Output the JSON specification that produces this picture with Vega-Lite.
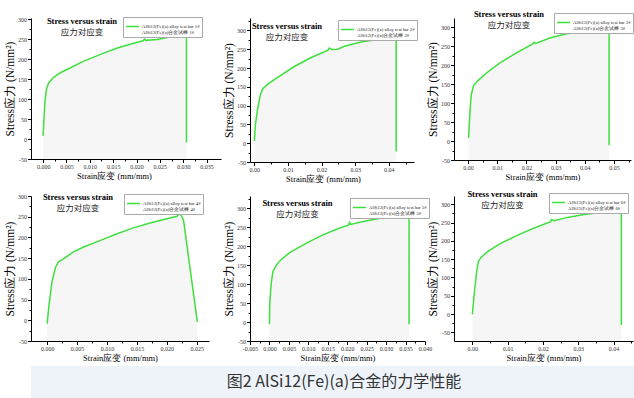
{
  "$schema": "https://vega.github.io/schema/vega-lite/v6.json",
  "padding": {"left": 4, "top": 9, "right": 0, "bottom": 0},
  "background": "white",
  "config": {
    "view": {"stroke": null},
    "font": "Liberation Serif",
    "axis": {"domainColor": "black", "domainWidth": 1, "tickColor": "black", "tickWidth": 1, "labelFont": "Liberation Serif", "labelFontSize": 6, "labelColor": "#333", "labelPadding": 1, "titleFont": "Liberation Serif", "titleFontWeight": "normal", "titleColor": "black", "grid": false, "labelOverlap": false, "labelFlush": false, "labelBound": false},
    "axisX": {"titleFontSize": 8.5, "titlePadding": 2},
    "axisY": {"titleFontSize": 11.5, "titlePadding": 2},
    "title": {"font": "Liberation Serif", "fontSize": 8.5, "fontWeight": "bold", "color": "black", "subtitleFont": "Noto Sans CJK SC", "subtitleFontSize": 8.5, "subtitleColor": "#222", "subtitlePadding": 2.5, "anchor": "middle", "frame": "group"},
    "legend": {"orient": "none", "labelFont": "Liberation Serif", "labelFontSize": 4.7, "labelColor": "#222", "symbolType": "stroke", "symbolStrokeWidth": 1.5, "symbolSize": 170, "strokeColor": "#aaa", "fillColor": "white", "padding": 2, "labelOffset": 2}
  },
  "datasets": {
    "p1": [
      {"bar": "1#", "strain": 0, "stress": 8}, {"bar": "1#", "strain": 0.00015, "stress": 45}, {"bar": "1#", "strain": 0.0004, "stress": 95}, {"bar": "1#", "strain": 0.0007, "stress": 124}, {"bar": "1#", "strain": 0.0012, "stress": 141}, {"bar": "1#", "strain": 0.0023, "stress": 155}, {"bar": "1#", "strain": 0.0037, "stress": 166}, {"bar": "1#", "strain": 0.0051, "stress": 174}, {"bar": "1#", "strain": 0.0087, "stress": 195}, {"bar": "1#", "strain": 0.0123, "stress": 212}, {"bar": "1#", "strain": 0.0159, "stress": 228}, {"bar": "1#", "strain": 0.0194, "stress": 240}, {"bar": "1#", "strain": 0.0214, "stress": 246}, {"bar": "1#", "strain": 0.0217, "stress": 250}, {"bar": "1#", "strain": 0.022, "stress": 247}, {"bar": "1#", "strain": 0.0244, "stress": 249}, {"bar": "1#", "strain": 0.0266, "stress": 254}, {"bar": "1#", "strain": 0.0287, "stress": 259}, {"bar": "1#", "strain": 0.0304, "stress": 262}, {"bar": "1#", "strain": 0.0307, "stress": 262}, {"bar": "1#", "strain": 0.0307, "stress": -9}
    ],
    "p2": [
      {"bar": "2#", "strain": 0, "stress": 6}, {"bar": "2#", "strain": 0.0003, "stress": 49}, {"bar": "2#", "strain": 0.001, "stress": 93}, {"bar": "2#", "strain": 0.0018, "stress": 129}, {"bar": "2#", "strain": 0.0025, "stress": 145}, {"bar": "2#", "strain": 0.004, "stress": 157}, {"bar": "2#", "strain": 0.0069, "stress": 175}, {"bar": "2#", "strain": 0.0119, "stress": 204}, {"bar": "2#", "strain": 0.0169, "stress": 228}, {"bar": "2#", "strain": 0.0218, "stress": 247}, {"bar": "2#", "strain": 0.0223, "stress": 253}, {"bar": "2#", "strain": 0.023, "stress": 249}, {"bar": "2#", "strain": 0.0248, "stress": 250}, {"bar": "2#", "strain": 0.0268, "stress": 258}, {"bar": "2#", "strain": 0.0317, "stress": 269}, {"bar": "2#", "strain": 0.0367, "stress": 276}, {"bar": "2#", "strain": 0.042, "stress": 282}, {"bar": "2#", "strain": 0.0422, "stress": 282}, {"bar": "2#", "strain": 0.0422, "stress": -22}
    ],
    "p3": [
      {"bar": "3#", "strain": 0.0002, "stress": 8}, {"bar": "3#", "strain": 0.0006, "stress": 69}, {"bar": "3#", "strain": 0.0011, "stress": 122}, {"bar": "3#", "strain": 0.0019, "stress": 146}, {"bar": "3#", "strain": 0.0034, "stress": 159}, {"bar": "3#", "strain": 0.0063, "stress": 179}, {"bar": "3#", "strain": 0.0108, "stress": 205}, {"bar": "3#", "strain": 0.0166, "stress": 232}, {"bar": "3#", "strain": 0.0223, "stress": 256}, {"bar": "3#", "strain": 0.0226, "stress": 260}, {"bar": "3#", "strain": 0.0232, "stress": 257}, {"bar": "3#", "strain": 0.028, "stress": 271}, {"bar": "3#", "strain": 0.0337, "stress": 282}, {"bar": "3#", "strain": 0.0394, "stress": 287}, {"bar": "3#", "strain": 0.0451, "stress": 289}, {"bar": "3#", "strain": 0.0479, "stress": 290}, {"bar": "3#", "strain": 0.0483, "stress": 290}, {"bar": "3#", "strain": 0.0483, "stress": -11}
    ],
    "p4": [
      {"bar": "4#", "strain": 0, "stress": -8}, {"bar": "4#", "strain": 0.0003, "stress": 36}, {"bar": "4#", "strain": 0.0008, "stress": 92}, {"bar": "4#", "strain": 0.0014, "stress": 128}, {"bar": "4#", "strain": 0.0019, "stress": 141}, {"bar": "4#", "strain": 0.0028, "stress": 149}, {"bar": "4#", "strain": 0.0044, "stress": 165}, {"bar": "4#", "strain": 0.0061, "stress": 177}, {"bar": "4#", "strain": 0.0089, "stress": 193}, {"bar": "4#", "strain": 0.0117, "stress": 209}, {"bar": "4#", "strain": 0.0144, "stress": 223}, {"bar": "4#", "strain": 0.0172, "stress": 235}, {"bar": "4#", "strain": 0.02, "stress": 245}, {"bar": "4#", "strain": 0.0217, "stress": 251}, {"bar": "4#", "strain": 0.0221, "stress": 257}, {"bar": "4#", "strain": 0.0225, "stress": 251}, {"bar": "4#", "strain": 0.0228, "stress": 241}, {"bar": "4#", "strain": 0.0251, "stress": -4}
    ],
    "p5": [
      {"bar": "5#", "strain": 0, "stress": -6}, {"bar": "5#", "strain": 0.0001, "stress": 54}, {"bar": "5#", "strain": 0.0005, "stress": 106}, {"bar": "5#", "strain": 0.0009, "stress": 133}, {"bar": "5#", "strain": 0.0018, "stress": 150}, {"bar": "5#", "strain": 0.0026, "stress": 161}, {"bar": "5#", "strain": 0.0052, "stress": 183}, {"bar": "5#", "strain": 0.0094, "stress": 207}, {"bar": "5#", "strain": 0.0136, "stress": 229}, {"bar": "5#", "strain": 0.0179, "stress": 247}, {"bar": "5#", "strain": 0.0204, "stress": 256}, {"bar": "5#", "strain": 0.0206, "stress": 262}, {"bar": "5#", "strain": 0.0209, "stress": 257}, {"bar": "5#", "strain": 0.0238, "stress": 264}, {"bar": "5#", "strain": 0.0281, "stress": 273}, {"bar": "5#", "strain": 0.0323, "stress": 279}, {"bar": "5#", "strain": 0.0357, "stress": 280}, {"bar": "5#", "strain": 0.0359, "stress": 280}, {"bar": "5#", "strain": 0.0359, "stress": -6}
    ],
    "p6": [
      {"bar": "6#", "strain": 0, "stress": -1}, {"bar": "6#", "strain": 0.0005, "stress": 52}, {"bar": "6#", "strain": 0.0012, "stress": 115}, {"bar": "6#", "strain": 0.0017, "stress": 143}, {"bar": "6#", "strain": 0.0024, "stress": 154}, {"bar": "6#", "strain": 0.0042, "stress": 170}, {"bar": "6#", "strain": 0.008, "stress": 193}, {"bar": "6#", "strain": 0.0127, "stress": 215}, {"bar": "6#", "strain": 0.0175, "stress": 235}, {"bar": "6#", "strain": 0.0222, "stress": 252}, {"bar": "6#", "strain": 0.0224, "stress": 258}, {"bar": "6#", "strain": 0.0231, "stress": 255}, {"bar": "6#", "strain": 0.0269, "stress": 264}, {"bar": "6#", "strain": 0.0316, "stress": 272}, {"bar": "6#", "strain": 0.0363, "stress": 277}, {"bar": "6#", "strain": 0.042, "stress": 281}, {"bar": "6#", "strain": 0.0422, "stress": 281}, {"bar": "6#", "strain": 0.0422, "stress": -30}
    ],
    "caption": [{"text": "图2 AlSi12(Fe)(a)合金的力学性能"}]
  },
  "resolve": {"scale": {"color": "independent"}, "legend": {"color": "independent"}},
  "spacing": 4,
  "vconcat": [
    {
      "columns": 3,
      "bounds": "flush",
      "align": {"row": "all", "column": "none"},
      "spacing": {"row": 33, "column": 29},
      "resolve": {"scale": {"x": "independent", "y": "independent", "color": "independent"}, "axis": {"x": "independent", "y": "independent"}, "legend": {"color": "independent"}},
      "concat": [
        {
          "width": 190, "height": 141,
          "data": {"name": "p1"},
          "title": {"text": "Stress versus strain", "subtitle": "应力对应变", "dx": -44, "offset": -20.5},
          "encoding": {
            "x": {"field": "strain", "type": "quantitative", "scale": {"domain": [-0.0026, 0.0381], "nice": false, "zero": false},
              "axis": {"title": "Strain应变 (mm/mm)", "titleX": 83, "values": [0, 0.0025, 0.005, 0.0075, 0.01, 0.0125, 0.015, 0.0175, 0.02, 0.0225, 0.025, 0.0275, 0.03, 0.0325, 0.035],
                "labelExpr": "abs(datum.value/0.005 - round(datum.value/0.005)) < 0.01 ? format(datum.value, '.3f') : ''",
                "tickSize": {"condition": {"test": "abs(datum.value/0.005 - round(datum.value/0.005)) < 0.01", "value": 3.5}, "value": 2}}},
            "y": {"field": "stress", "type": "quantitative", "scale": {"domain": [-50, 303], "nice": false, "zero": false},
              "axis": {"title": "Stress应力 (N/mm²)", "values": [-50, -25, 0, 25, 50, 75, 100, 125, 150, 175, 200, 225, 250, 275, 300],
                "labelExpr": "datum.value % 50 === 0 ? '' + datum.value : ''",
                "tickSize": {"condition": {"test": "datum.value % 50 === 0", "value": 3.5}, "value": 2}}}
          },
          "layer": [
            {"mark": {"type": "area", "color": "#f6f6f6"}, "encoding": {"y2": {"datum": -50}, "order": {"value": null}}},
            {"mark": {"type": "line", "strokeWidth": 1.5}, "encoding": {"order": {"value": null}, "color": {"field": "bar", "type": "nominal", "scale": {"range": ["#3ee03e"]},
              "legend": {"title": null, "legendX": 92, "legendY": -1, "labelExpr": "['AlSi12(Fe)(a) alloy test bar ' + datum.label, 'AlSi12(Fe)(a)合金试棒 ' + datum.label]"}}}}
          ]
        },
        {
          "width": 164, "height": 144,
          "data": {"name": "p2"},
          "title": {"text": "Stress versus strain", "subtitle": "应力对应变", "dx": -45, "offset": -23.5},
          "encoding": {
            "x": {"field": "strain", "type": "quantitative", "scale": {"domain": [-0.0013, 0.0475], "nice": false, "zero": false},
              "axis": {"title": "Strain应变 (mm/mm)", "titleX": 73, "values": [0, 0.005, 0.01, 0.015, 0.02, 0.025, 0.03, 0.035, 0.04, 0.045],
                "labelExpr": "abs(datum.value/0.01 - round(datum.value/0.01)) < 0.01 ? format(datum.value, '.2f') : ''",
                "tickSize": {"condition": {"test": "abs(datum.value/0.01 - round(datum.value/0.01)) < 0.01", "value": 3.5}, "value": 2}}},
            "y": {"field": "stress", "type": "quantitative", "scale": {"domain": [-50, 333], "nice": false, "zero": false},
              "axis": {"title": "Stress应力 (N/mm²)", "values": [-50, -25, 0, 25, 50, 75, 100, 125, 150, 175, 200, 225, 250, 275, 300, 325],
                "labelExpr": "datum.value % 50 === 0 ? '' + datum.value : ''",
                "tickSize": {"condition": {"test": "datum.value % 50 === 0", "value": 3.5}, "value": 2}}}
          },
          "layer": [
            {"mark": {"type": "area", "color": "#f6f6f6"}, "encoding": {"y2": {"datum": -50}, "order": {"value": null}}},
            {"mark": {"type": "line", "strokeWidth": 1.5}, "encoding": {"order": {"value": null}, "color": {"field": "bar", "type": "nominal", "scale": {"range": ["#3ee03e"]},
              "legend": {"title": null, "legendX": 88, "legendY": 2, "labelExpr": "['AlSi12(Fe)(a) alloy test bar ' + datum.label, 'AlSi12(Fe)(a)合金试棒 ' + datum.label]"}}}}
          ]
        },
        {
          "width": 177, "height": 142,
          "data": {"name": "p3"},
          "title": {"text": "Stress versus strain", "subtitle": "应力对应变", "dx": -33.5, "offset": -16.5},
          "encoding": {
            "x": {"field": "strain", "type": "quantitative", "scale": {"domain": [-0.0048, 0.0558], "nice": false, "zero": false},
              "axis": {"title": "Strain应变 (mm/mm)", "values": [0, 0.005, 0.01, 0.015, 0.02, 0.025, 0.03, 0.035, 0.04, 0.045, 0.05, 0.055],
                "labelExpr": "abs(datum.value/0.01 - round(datum.value/0.01)) < 0.01 ? format(datum.value, '.2f') : ''",
                "tickSize": {"condition": {"test": "abs(datum.value/0.01 - round(datum.value/0.01)) < 0.01", "value": 3.5}, "value": 2}}},
            "y": {"field": "stress", "type": "quantitative", "scale": {"domain": [-50, 323.7], "nice": false, "zero": false},
              "axis": {"title": "Stress应力 (N/mm²)", "values": [-50, -25, 0, 25, 50, 75, 100, 125, 150, 175, 200, 225, 250, 275, 300],
                "labelExpr": "datum.value % 50 === 0 ? '' + datum.value : ''",
                "tickSize": {"condition": {"test": "datum.value % 50 === 0", "value": 3.5}, "value": 2}}}
          },
          "layer": [
            {"mark": {"type": "area", "color": "#f6f6f6"}, "encoding": {"y2": {"datum": -50}, "order": {"value": null}}},
            {"mark": {"type": "line", "strokeWidth": 1.5}, "encoding": {"order": {"value": null}, "color": {"field": "bar", "type": "nominal", "scale": {"range": ["#3ee03e"]},
              "legend": {"title": null, "legendX": 100, "legendY": -5, "labelExpr": "['AlSi12(Fe)(a) alloy test bar ' + datum.label, 'AlSi12(Fe)(a)合金试棒 ' + datum.label]"}}}}
          ]
        },
        {
          "width": 178, "height": 145,
          "data": {"name": "p4"},
          "title": {"text": "Stress versus strain", "subtitle": "应力对应变", "dx": -42, "offset": -19.5},
          "encoding": {
            "x": {"field": "strain", "type": "quantitative", "scale": {"domain": [-0.0027, 0.02705], "nice": false, "zero": false},
              "axis": {"title": "Strain应变 (mm/mm)", "values": [0, 0.0025, 0.005, 0.0075, 0.01, 0.0125, 0.015, 0.0175, 0.02, 0.0225, 0.025],
                "labelExpr": "abs(datum.value/0.005 - round(datum.value/0.005)) < 0.01 ? format(datum.value, '.3f') : ''",
                "tickSize": {"condition": {"test": "abs(datum.value/0.005 - round(datum.value/0.005)) < 0.01", "value": 3.5}, "value": 2}}},
            "y": {"field": "stress", "type": "quantitative", "scale": {"domain": [-50, 300], "nice": false, "zero": false},
              "axis": {"title": "Stress应力 (N/mm²)", "values": [-50, -25, 0, 25, 50, 75, 100, 125, 150, 175, 200, 225, 250, 275, 300],
                "labelExpr": "datum.value % 50 === 0 ? '' + datum.value : ''",
                "tickSize": {"condition": {"test": "datum.value % 50 === 0", "value": 3.5}, "value": 2}}}
          },
          "layer": [
            {"mark": {"type": "area", "color": "#f6f6f6"}, "encoding": {"y2": {"datum": -50}, "order": {"value": null}}},
            {"mark": {"type": "line", "strokeWidth": 1.5}, "encoding": {"order": {"value": null}, "color": {"field": "bar", "type": "nominal", "scale": {"range": ["#3ee03e"]},
              "legend": {"title": null, "legendX": 93, "legendY": -2, "labelExpr": "['AlSi12(Fe)(a) alloy test bar ' + datum.label, 'AlSi12(Fe)(a)合金试棒 ' + datum.label]"}}}}
          ]
        },
        {
          "width": 175, "height": 145,
          "data": {"name": "p5"},
          "title": {"text": "Stress versus strain", "subtitle": "应力对应变", "dx": -40, "offset": -22.5},
          "encoding": {
            "x": {"field": "strain", "type": "quantitative", "scale": {"domain": [-0.005, 0.04], "nice": false, "zero": false},
              "axis": {"title": "Strain应变 (mm/mm)", "values": [-0.005, -0.0025, 0, 0.0025, 0.005, 0.0075, 0.01, 0.0125, 0.015, 0.0175, 0.02, 0.0225, 0.025, 0.0275, 0.03, 0.0325, 0.035, 0.0375, 0.04],
                "labelExpr": "abs(datum.value/0.005 - round(datum.value/0.005)) < 0.01 ? replace(format(datum.value, '.3f'), '\u2212', '-') : ''",
                "tickSize": {"condition": {"test": "abs(datum.value/0.005 - round(datum.value/0.005)) < 0.01", "value": 3.5}, "value": 2}}},
            "y": {"field": "stress", "type": "quantitative", "scale": {"domain": [-50, 332], "nice": false, "zero": false},
              "axis": {"title": "Stress应力 (N/mm²)", "values": [-50, -25, 0, 25, 50, 75, 100, 125, 150, 175, 200, 225, 250, 275, 300, 325],
                "labelExpr": "datum.value % 50 === 0 ? '' + datum.value : ''",
                "tickSize": {"condition": {"test": "datum.value % 50 === 0", "value": 3.5}, "value": 2}}}
          },
          "layer": [
            {"mark": {"type": "area", "color": "#f6f6f6"}, "encoding": {"y2": {"datum": -50}, "order": {"value": null}}},
            {"mark": {"type": "line", "strokeWidth": 1.5}, "encoding": {"order": {"value": null}, "color": {"field": "bar", "type": "nominal", "scale": {"range": ["#3ee03e"]},
              "legend": {"title": null, "legendX": 100, "legendY": 2, "labelExpr": "['AlSi12(Fe)(a) alloy test bar ' + datum.label, 'AlSi12(Fe)(a)合金试棒 ' + datum.label]"}}}}
          ]
        },
        {
          "width": 179, "height": 145,
          "data": {"name": "p6"},
          "title": {"text": "Stress versus strain", "subtitle": "应力对应变", "dx": -41, "offset": -17},
          "encoding": {
            "x": {"field": "strain", "type": "quantitative", "scale": {"domain": [-0.0052, 0.0455], "nice": false, "zero": false},
              "axis": {"title": "Strain应变 (mm/mm)", "values": [0, 0.005, 0.01, 0.015, 0.02, 0.025, 0.03, 0.035, 0.04, 0.045],
                "labelExpr": "abs(datum.value/0.01 - round(datum.value/0.01)) < 0.01 ? format(datum.value, '.2f') : ''",
                "tickSize": {"condition": {"test": "abs(datum.value/0.01 - round(datum.value/0.01)) < 0.01", "value": 3.5}, "value": 2}}},
            "y": {"field": "stress", "type": "quantitative", "scale": {"domain": [-73.5, 322.4], "nice": false, "zero": false},
              "axis": {"title": "Stress应力 (N/mm²)", "values": [-50, -25, 0, 25, 50, 75, 100, 125, 150, 175, 200, 225, 250, 275, 300],
                "labelExpr": "datum.value % 50 === 0 ? '' + datum.value : ''",
                "tickSize": {"condition": {"test": "datum.value % 50 === 0", "value": 3.5}, "value": 2}}}
          },
          "layer": [
            {"mark": {"type": "area", "color": "#f6f6f6"}, "encoding": {"y2": {"datum": -73.5}, "order": {"value": null}}},
            {"mark": {"type": "line", "strokeWidth": 1.5}, "encoding": {"order": {"value": null}, "color": {"field": "bar", "type": "nominal", "scale": {"range": ["#3ee03e"]},
              "legend": {"title": null, "legendX": 95, "legendY": -3, "labelExpr": "['AlSi12(Fe)(a) alloy test bar ' + datum.label, 'AlSi12(Fe)(a)合金试棒 ' + datum.label]"}}}}
          ]
        }
      ]
    },
    {
      "width": 630, "height": 32,
      "view": {"fill": "#eef3fa", "stroke": null},
      "data": {"name": "caption"},
      "mark": {"type": "text", "font": "Noto Sans CJK SC", "fontSize": 16, "color": "#333", "dx": -2},
      "encoding": {"text": {"field": "text", "type": "nominal"}}
    }
  ]
}
